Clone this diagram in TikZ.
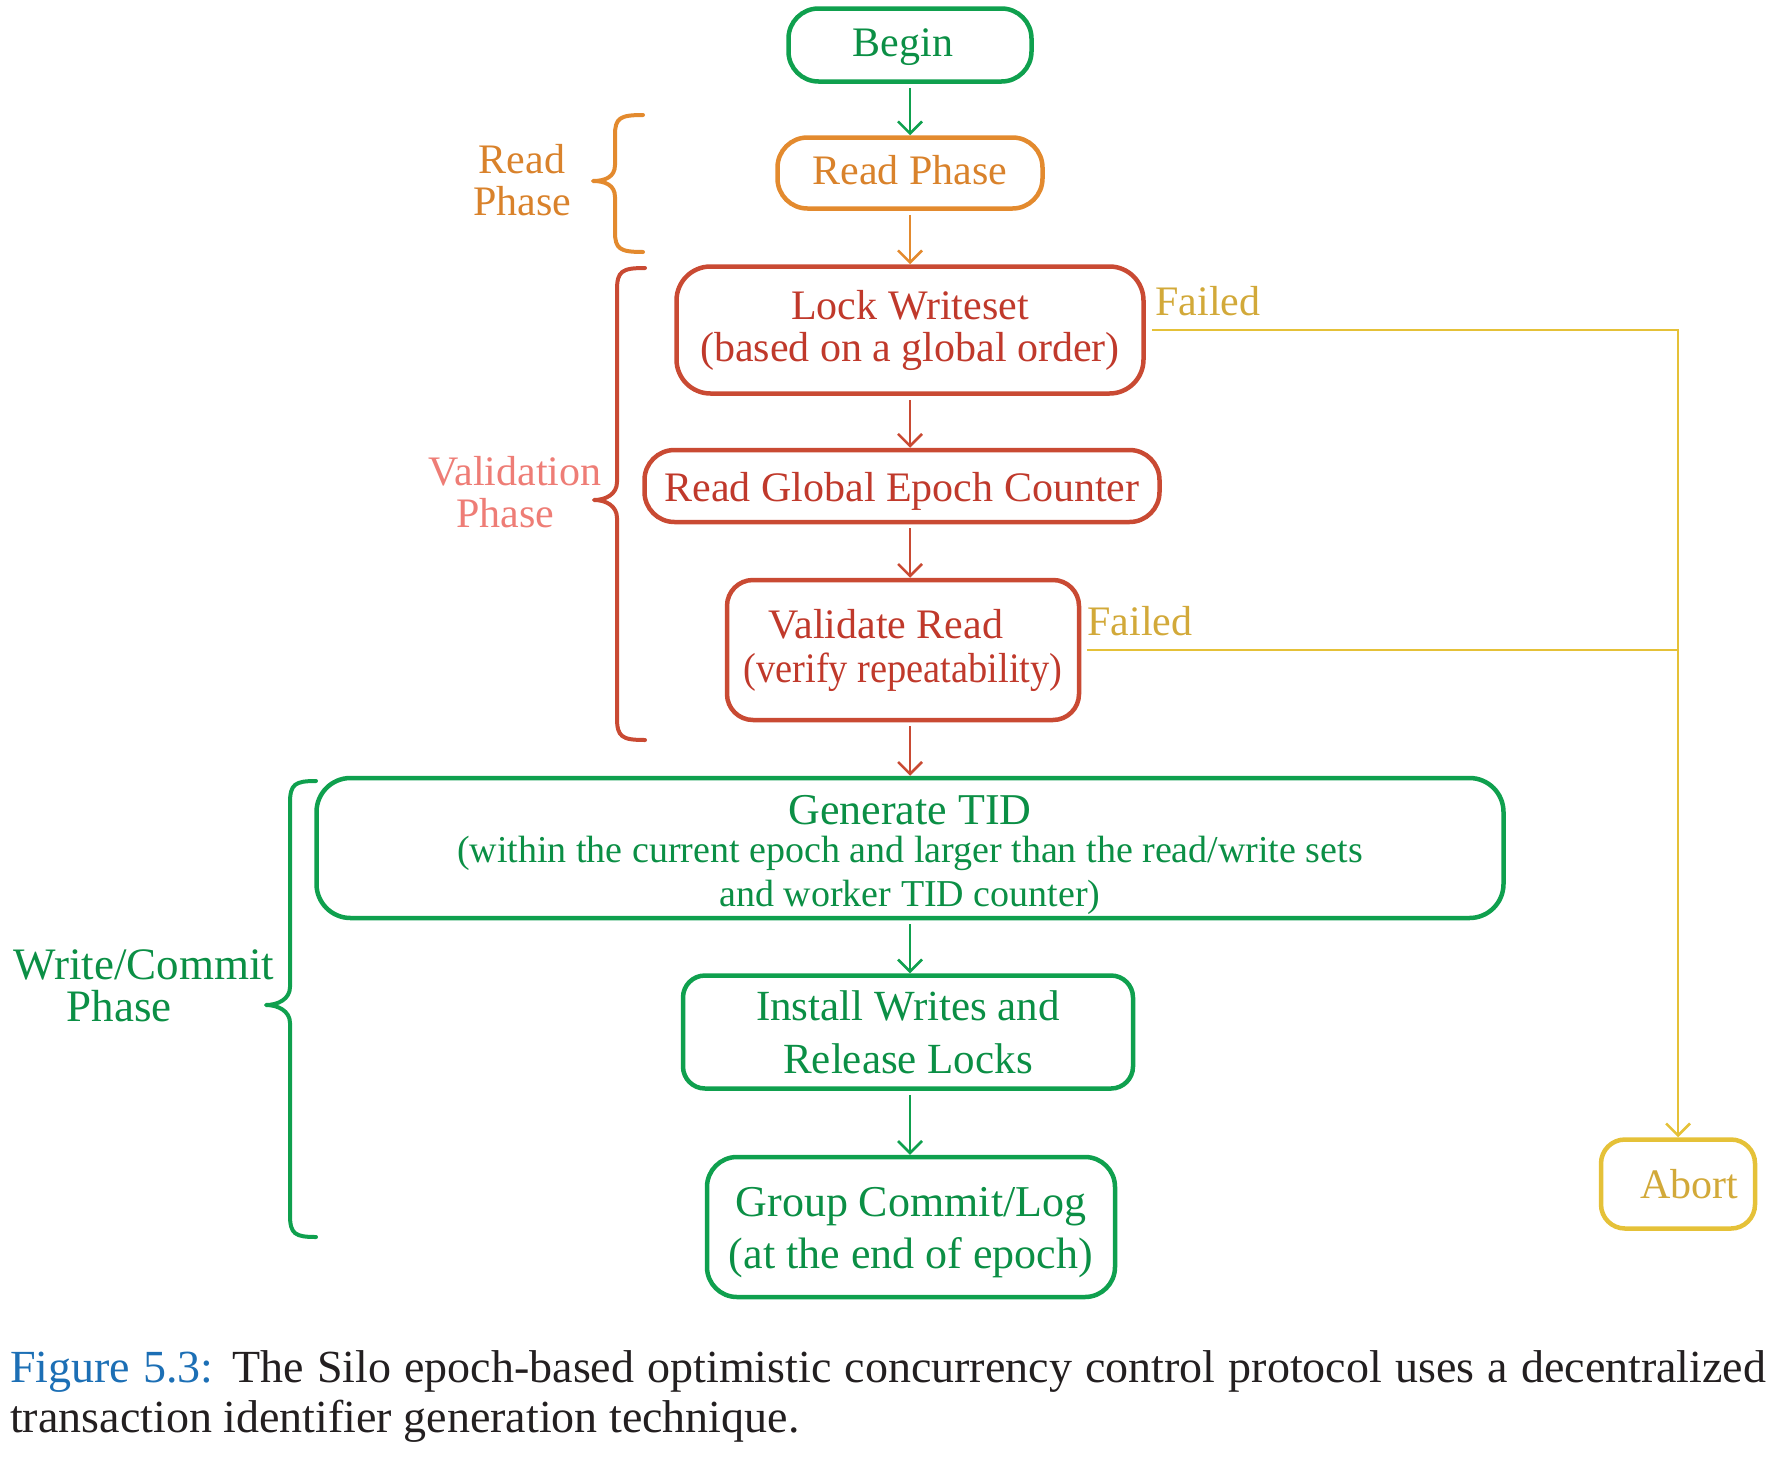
\documentclass[tikz,border=0pt]{standalone}
\usepackage{fontspec}
\usepackage{graphicx}
\setmainfont{Liberation Serif}
\usetikzlibrary{arrows.meta,calc}
\definecolor{gline}{HTML}{0FA04E}
\definecolor{gtext}{HTML}{0B8F45}
\definecolor{oline}{HTML}{E38A2E}
\definecolor{otext}{HTML}{D9822B}
\definecolor{rline}{HTML}{C94A33}
\definecolor{rtext}{HTML}{C0392B}
\definecolor{yline}{HTML}{E5C138}
\definecolor{ytext}{HTML}{D2A939}
\definecolor{vtext}{HTML}{EE7D76}
\definecolor{capblue}{HTML}{1C6FB5}
\definecolor{capblack}{HTML}{231F20}
\newcommand\lowr[2]{\raisebox{-#1}[\height][\depth]{#2}}
\begin{document}
\begin{tikzpicture}[x=1pt,y=-1pt,
  box/.style={draw, line width=4.5pt, rounded corners=30pt, inner sep=0pt, align=center,
    font=\fontsize{42}{42}\selectfont},
  lbl/.style={inner sep=0pt, align=center, font=\fontsize{42}{42}\selectfont},
  tipstyle/.style={-{Straight Barb[length=12pt,width=24pt,line width=2.5pt]}, line width=2.2pt, shorten <=4pt},
  bracestyle/.style={line width=4pt, line cap=round, line join=round},
  failline/.style={yline, line width=2.2pt, shorten <=6pt}]
\useasboundingbox (0,0) rectangle (1775,1459);

% boxes
\node[box, gline, text=gtext, minimum width=243pt, minimum height=73pt] (begin) at (910,45) {\lowr{2pt}{\hspace*{-14pt}Begin}};
\node[box, oline, text=otext, minimum width=265pt, minimum height=71pt] (read) at (910,173) {\lowr{-3pt}{Read Phase}};
\node[box, rline, text=rtext, minimum width=467pt, minimum height=127pt, rounded corners=34pt] (lock) at (910,330) {Lock Writeset\\(based on a global order)};
\node[box, rline, text=rtext, minimum width=515pt, minimum height=72pt] (rge) at (902,486) {\lowr{5pt}{Read Global Epoch Counter}};
\node[box, rline, text=rtext, minimum width=352pt, minimum height=140pt, rounded corners=26pt] (val) at (903,650) {Validate Read\hspace*{34pt}\\[2pt]\scalebox{0.915}[1]{(verify repeatability)}};
\node[box, gline, text=gtext, minimum width=1187pt, minimum height=140pt, rounded corners=34pt] (gen) at (910,848)
  {\lowr{7pt}{\fontsize{44}{44}\selectfont Generate TID}\\[-4pt]\lowr{7pt}{\fontsize{38}{38}\selectfont (within the current epoch and larger than the read/write sets}\\[2pt]\lowr{7pt}{\fontsize{38}{38}\selectfont and worker TID counter)}};
\node[box, gline, text=gtext, minimum width=450pt, minimum height=113pt, rounded corners=22pt, font=\fontsize{43}{43}\selectfont] (inst) at (908,1032) {Install Writes and\\[10pt]Release Locks};
\node[box, gline, text=gtext, minimum width=408pt, minimum height=140pt, rounded corners=30pt, font=\fontsize{44}{44}\selectfont] (grp) at (911,1227) {\lowr{6pt}{Group Commit/Log}\\[8pt]\lowr{6pt}{(at the end of epoch)}};
\node[box, yline, text=ytext, minimum width=154pt, minimum height=89pt, rounded corners=24pt] (abort) at (1678,1184) {\hspace*{22pt}Abort};

% phase labels
\node[lbl, text=otext] (lread) at (522,180) {Read\\Phase};
\node[lbl, text=vtext] (lval) at (515,492) {Validation\\Phase\hspace*{20pt}};
\node[lbl, text=gtext, font=\fontsize{45}{42}\selectfont] (lwc) at (144,986) {Write/Commit\\Phase\hspace*{50pt}};
\node[lbl, text=ytext] (fail1) at (1208,301) {Failed};
\node[lbl, text=ytext] (fail2) at (1140,621) {Failed};

% braces
\draw[bracestyle, oline] (643,115) .. controls (620,115) and (615,118) .. (615,135)
  -- (615,165) .. controls (615,177) and (605,181) .. (593,181)
  .. controls (605,181) and (615,185) .. (615,197)
  -- (615,232) .. controls (615,249) and (620,252) .. (643,252);
\draw[bracestyle, rline] (645,268) .. controls (622,268) and (617,271) .. (617,290)
  -- (617,482) .. controls (617,494) and (606,500) .. (594,500)
  .. controls (606,500) and (617,506) .. (617,518)
  -- (617,718) .. controls (617,737) and (622,740) .. (645,740);
\draw[bracestyle, gline] (316,781) .. controls (295,781) and (290,784) .. (290,803)
  -- (290,987) .. controls (290,999) and (278,1005) .. (266,1005)
  .. controls (278,1005) and (290,1011) .. (290,1023)
  -- (290,1215) .. controls (290,1234) and (295,1237) .. (316,1237);

% main flow connectors
\draw[tipstyle, gline] (begin.south) -- (read.north);
\draw[tipstyle, oline] (read.south) -- (lock.north);
\draw[tipstyle, rline] (lock.south) -- (lock.south |- rge.north);
\draw[tipstyle, rline] (rge.south -| lock.south) -- (val.north -| lock.south);
\draw[tipstyle, rline] (val.south -| lock.south) -- (gen.north);
\draw[tipstyle, gline] (gen.south) -- (gen.south |- inst.north);
\draw[tipstyle, gline] (inst.south -| gen.south) -- (grp.north -| gen.south);

% failure connectors
\draw[failline, -{Straight Barb[length=12pt,width=24pt,line width=2.5pt]}] (lock.east) -| (abort.north);
\draw[failline] (val.east) -- (val.east -| abort.north);

% caption
\node[anchor=base west, inner sep=0pt, text=capblack, font=\fontsize{46}{50}\selectfont] (cap1) at (10,1382)
  {\hbox to 1756pt{\textcolor{capblue}{Figure 5.3:} The Silo epoch-based optimistic concurrency control protocol uses a decentralized}};
\node[anchor=base west, inner sep=0pt, text=capblack, font=\fontsize{46}{50}\selectfont] (cap2) at (10,1432)
  {transaction identifier generation technique.};
\end{tikzpicture}
\end{document}
